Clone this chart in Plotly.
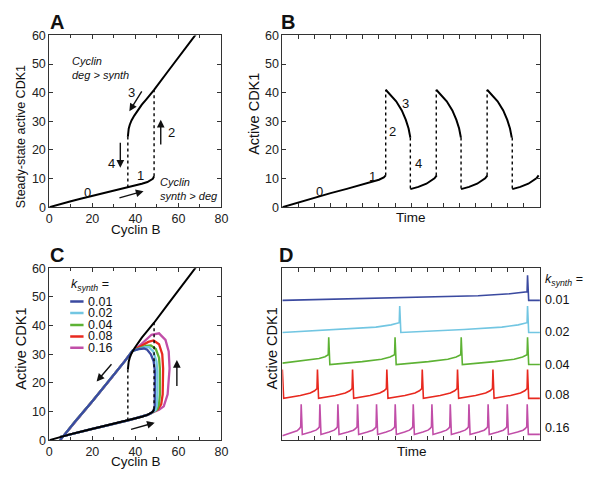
import plotly.graph_objects as go

FONT = "Liberation Sans, Arial, Helvetica, sans-serif"

# ---------------- Panels A & C: steady-state response ----------------
lower_cyclin = [0, 5, 10, 15, 20, 25, 30, 33, 36.5, 40, 43, 45.6, 47.2, 48.1, 48.7]
lower_cdk = [0, 1.1, 2.1, 3.0, 3.9, 4.8, 5.6, 6.2, 6.9, 7.6, 8.2, 8.8, 9.4, 9.9, 10.8]
upper_cyclin = [36.5, 36.6, 36.9, 37.4, 38.2, 39.5, 41, 43, 45, 48.7, 55, 62, 68, 72]
upper_cdk = [24.6, 26.0, 27.4, 28.8, 30.3, 32.0, 33.8, 35.8, 37.6, 41.0, 47.3, 54.3, 60.2, 64.2]
fold_cyclin = [36.5, 48.7]
fold_low_cdk = [6.9, 10.8]
fold_high_cdk = [24.6, 41.0]

# ---------------- Panel B: time course ----------------
b_first_time = [0, 1, 2, 3, 4, 5, 5.5, 6.0, 6.3, 6.42]
b_first_cdk = [0, 1.7, 3.3, 4.9, 6.4, 8.0, 8.8, 9.6, 10.4, 11.1]
b_rise_times = [6.42, 9.56, 12.72]
b_fall_times = [7.95, 11.1, 14.28]
b_high_dt = [0, 0.3, 0.65, 1.0, 1.25, 1.42, 1.53]
b_high_cdk = [41.0, 39.3, 37.0, 33.8, 30.5, 27.5, 24.3]
b_low_dt = [0, 0.5, 1.0, 1.3, 1.5, 1.64]
b_low_cdk = [6.3, 7.1, 8.2, 9.2, 10.1, 11.1]

# ---------------- Panel C: trajectories for several k_synth ----------------
k_labels = ["0.01", "0.02", "0.04", "0.08", "0.16"]
k_colors = ["#3b4aa0", "#72c6e2", "#5db234", "#e8291f", "#c14ea8"]
c_diag_cyclin = [38.7, 35.0, 28.8, 20.0, 12.0, 5.0]
c_diag_cdk = [31.2, 27.5, 21.6, 13.6, 6.5, 0.0]
c_loop_cyclin = [
    [47.2, 48.4, 49.0, 49.2, 49.1, 48.5, 47.2, 45.5, 44.0, 41.5, 38.7],
    [47.2, 49.3, 50.0, 50.2, 50.2, 49.8, 48.3, 46.3, 44.5, 42.0, 38.7],
    [47.2, 50.0, 51.0, 51.4, 51.4, 51.0, 49.5, 47.2, 45.0, 42.5, 40.0, 38.7],
    [47.2, 50.5, 52.0, 52.7, 52.9, 52.5, 51.0, 48.5, 46.0, 43.0, 40.5, 38.7],
    [47.2, 51.0, 53.2, 55.0, 55.9, 55.5, 54.0, 51.0, 47.5, 44.0, 41.0, 38.7],
]
c_loop_cdk = [
    [9.4, 10.2, 12.0, 18.0, 24.0, 27.5, 30.0, 31.6, 32.0, 31.8, 31.2],
    [9.4, 10.4, 12.0, 16.0, 24.0, 27.5, 31.0, 32.5, 32.5, 32.0, 31.2],
    [9.4, 10.6, 12.5, 16.0, 25.0, 28.8, 31.8, 33.1, 32.9, 32.2, 31.5, 31.2],
    [9.4, 10.8, 12.5, 16.0, 25.0, 30.0, 33.5, 34.8, 34.3, 33.0, 31.9, 31.2],
    [9.4, 10.6, 11.8, 16.0, 25.0, 31.0, 35.0, 37.3, 36.8, 34.4, 32.3, 31.2],
]

# ---------------- Panel D: time courses for several k_synth ----------------
d_start = [48.8, 37.6, 26.9, 24.7, 1.5]
d_base = [48.8, 37.6, 26.4, 14.6, 2.0]
d_pre = [51.8, 41.0, 29.8, 18.0, 4.7]
d_peak = [57.6, 46.8, 35.9, 24.7, 12.5]
d_spikes = [
    [15.2],
    [7.26, 15.2],
    [2.85, 6.97, 11.08, 15.2],
    [2.15, 4.33, 6.46, 8.66, 10.85, 13.05, 15.2],
    [1.14, 2.30, 3.42, 4.64, 5.82, 6.98, 8.10, 9.26, 10.40, 11.56, 12.75, 13.94, 15.18],
]
ramp_frac = [0.5, 0.8, 0.93]      # where along each slow ramp
ramp_rise = [0.3, 0.55, 0.78]     # fraction of rise reached there

# page has an 8px body margin: figure is drawn 8px right/down of the window corner
OFF = 8
FW, FH = 602 - OFF, 485 - OFF


def PX(x):
    return (x - OFF) / FW


def PY(y):
    return 1 - (y - OFF) / FH


fig = go.Figure()


def add(x, y, xa, ya, color="black", width=2, dash=None):
    fig.add_trace(go.Scatter(x=x, y=y, mode="lines", xaxis=xa, yaxis=ya,
                             line=dict(color=color, width=width, dash=dash),
                             showlegend=False, hoverinfo="skip"))


def add_dotted(xs, y0s, y1s, xa, ya):
    xx, yy = [], []
    for xv, a, b in zip(xs, y0s, y1s):
        xx += [xv, xv, None]
        yy += [a, b, None]
    add(xx, yy, xa, ya, width=1.4, dash="dot")


# ---- A ----
add(lower_cyclin, lower_cdk, "x", "y")
add(upper_cyclin, upper_cdk, "x", "y")
add_dotted(fold_cyclin, fold_low_cdk, fold_high_cdk, "x", "y")

# ---- B ----
bx, by = list(b_first_time), list(b_first_cdk)
for r, f in zip(b_rise_times, b_fall_times):
    bx += [None] + [r + d for d in b_high_dt]
    by += [None] + b_high_cdk
    bx += [None] + [f + d for d in b_low_dt]
    by += [None] + b_low_cdk
add(bx, by, "x2", "y2")
add_dotted(b_rise_times, [b_first_cdk[-1]] * 3, [b_high_cdk[0]] * 3, "x2", "y2")
add_dotted(b_fall_times, [b_high_cdk[-1]] * 3, [b_low_cdk[0]] * 3, "x2", "y2")

# ---- C ----
for i in reversed(range(len(k_labels))):
    lx = [v for v in lower_cyclin if 5 <= v < c_loop_cyclin[i][0]]
    ly = [lower_cdk[lower_cyclin.index(v)] for v in lx]
    cx = lx + c_loop_cyclin[i] + c_diag_cyclin[1:]
    cy = ly + c_loop_cdk[i] + c_diag_cdk[1:]
    add(cx, cy, "x3", "y3", color=k_colors[i], width=2.3)
add(lower_cyclin, lower_cdk, "x3", "y3")
add(upper_cyclin, upper_cdk, "x3", "y3")
add_dotted(fold_cyclin, fold_low_cdk, fold_high_cdk, "x3", "y3")

# ---- D ----
for i in range(len(k_labels)):
    t, y = [0.0], [d_start[i]]
    t0, y0 = 0.0, d_start[i]
    if d_start[i] > d_pre[i]:
        t.append(0.08); y.append(d_base[i]); t0, y0 = 0.08, d_base[i]
    for s in d_spikes[i]:
        span = s - t0
        for fr, gr in zip(ramp_frac, ramp_rise):
            t.append(t0 + fr * span); y.append(y0 + gr * (d_pre[i] - y0))
        t += [s, s + 0.03, s + 0.1]
        y += [d_pre[i], d_peak[i], d_base[i]]
        t0, y0 = s + 0.1, d_base[i]
    t.append(16); y.append(d_base[i])
    add(t, y, "x4", "y4", color=k_colors[i], width=1.6)

# ---------------- axes ----------------
tickfont = dict(family=FONT, size=12.5, color="#222")
base_ax = dict(showline=True, linecolor="#333", linewidth=1, mirror="ticks",
               ticks="inside", ticklen=4, tickcolor="#333", tickwidth=1,
               showgrid=False, zeroline=False, tickfont=tickfont, fixedrange=True)

dom_x_left = [PX(47), PX(222)]
dom_x_right = [PX(284), PX(546)]
dom_y_top = [PY(206), PY(29)]
dom_y_bot = [PY(446), PY(269)]

cyc_x = dict(base_ax, range=[0, 80], dtick=20, tick0=0,
             minor=dict(dtick=10, ticks="inside", ticklen=3, tickcolor="#333"))
cdk_y = dict(base_ax, range=[0, 60], dtick=10, tick0=0)
time_x = dict(base_ax, range=[0, 16], dtick=1, tick0=0, showticklabels=False)

fig.update_layout(
    width=FW, height=FH,
    margin=dict(l=0, r=0, t=0, b=0),
    paper_bgcolor="white", plot_bgcolor="white",
    font=dict(family=FONT, color="#222"),
    showlegend=False,
    xaxis=dict(cyc_x, domain=dom_x_left, anchor="y"),
    yaxis=dict(cdk_y, domain=dom_y_top, anchor="x"),
    xaxis2=dict(time_x, domain=dom_x_right, anchor="y2"),
    yaxis2=dict(cdk_y, domain=dom_y_top, anchor="x2"),
    xaxis3=dict(cyc_x, domain=dom_x_left, anchor="y3"),
    yaxis3=dict(cdk_y, domain=dom_y_bot, anchor="x3"),
    xaxis4=dict(time_x, domain=dom_x_right, anchor="y4"),
    yaxis4=dict(base_ax, range=[0, 60], domain=dom_y_bot, anchor="x4",
                ticks="", showticklabels=False, mirror=True),
)

ann = []


def text(x, y, s, xref, yref, size=13, xanchor="center", yanchor="middle", **kw):
    d = dict(x=x, y=y, text=s, xref=xref, yref=yref, showarrow=False,
             xanchor=xanchor, yanchor=yanchor,
             font=dict(family=FONT, size=size, color=kw.pop("color", "#111")))
    d.update(kw)
    ann.append(d)


def arrow(x0, y0, x1, y1, xref, yref):
    ann.append(dict(x=x1, y=y1, ax=x0, ay=y0, xref=xref, yref=yref,
                    axref=xref, ayref=yref, text="", showarrow=True,
                    arrowhead=2, arrowsize=1.1, arrowwidth=1.4, arrowcolor="#111"))


# panel letters
for lab, px, py in [("A", 46, 15), ("B", 281, 15), ("C", 46, 255), ("D", 279, 255)]:
    text(PX(px), PY(py), "<b>%s</b>" % lab, "paper", "paper", size=20, xanchor="left")

# axis titles
text(PX(135), PY(228.5), "Cyclin B", "paper", "paper", size=13.5)
text(PX(135), PY(468.5), "Cyclin B", "paper", "paper", size=13.5)
text(PX(415), PY(217), "Time", "paper", "paper", size=13.5)
text(PX(416), PY(458), "Time", "paper", "paper", size=13.5)
text(PX(18), PY(133), "Steady-state active CDK1", "paper", "paper", size=12.5, textangle=-90)
text(PX(255), PY(110), "Active CDK1", "paper", "paper", size=14.5, textangle=-90)
text(PX(18), PY(352), "Active CDK1", "paper", "paper", size=14.5, textangle=-90)
text(PX(273), PY(352), "Active CDK1", "paper", "paper", size=14.5, textangle=-90)

# Panel A labels and arrows
text(9.6, 48.5, "<i>Cyclin<br>deg > synth</i>", "x", "y", size=11, xanchor="left", align="left")
text(50.3, 6.3, "<i>Cyclin<br>synth > deg</i>", "x", "y", size=11, xanchor="left", align="left")
for s, xv, yv in [("0", 17.9, 5.3), ("1", 42.6, 11.0), ("2", 56.6, 26.0), ("3", 38.3, 40.2), ("4", 28.9, 15.4)]:
    text(xv, yv, s, "x", "y", size=13)
arrow(43.4, 41.0, 37.2, 33.5, "x", "y")
arrow(51.8, 21.4, 51.8, 30.5, "x", "y")
arrow(33.0, 23.0, 33.0, 13.8, "x", "y")
arrow(31.9, 3.1, 43.8, 5.6, "x", "y")

# Panel B labels
for s, xv, yv in [("0", 2.3, 5.6), ("1", 5.6, 10.8), ("2", 6.85, 26.3), ("3", 7.62, 36.3), ("4", 8.45, 15.3)]:
    text(xv, yv, s, "x2", "y2", size=13)

# Panel C arrows and legend
arrow(29.5, 27.0, 22.0, 20.5, "x3", "y3")
arrow(59.3, 18.4, 59.3, 28.0, "x3", "y3")
arrow(37.3, 3.6, 49.0, 6.1, "x3", "y3")
text(9.0, 54.3, "<i>k</i><sub><i>synth</i></sub> =", "x3", "y3", size=12.5, xanchor="left")
leg_y = [48.4, 44.4, 40.2, 36.2, 32.3]
shapes = []
for i, lab in enumerate(k_labels):
    shapes.append(dict(type="line", xref="x3", yref="y3", x0=9.7, x1=15.9,
                       y0=leg_y[i], y1=leg_y[i], line=dict(color=k_colors[i], width=2.5)))
    text(17.2, leg_y[i], lab, "x3", "y3", size=12.5, xanchor="left")

# Panel D right-hand labels
text(PX(549), 56.0, "<i>k</i><sub><i>synth</i></sub> =", "paper", "y4", size=12.5, xanchor="left")
d_lab_y = [48.8, 37.6, 26.4, 15.6, 4.4]
for i, lab in enumerate(k_labels):
    text(PX(549), d_lab_y[i], lab, "paper", "y4", size=12.5, xanchor="left")

fig.update_layout(annotations=ann, shapes=shapes)
fig.write_html("out.html")
